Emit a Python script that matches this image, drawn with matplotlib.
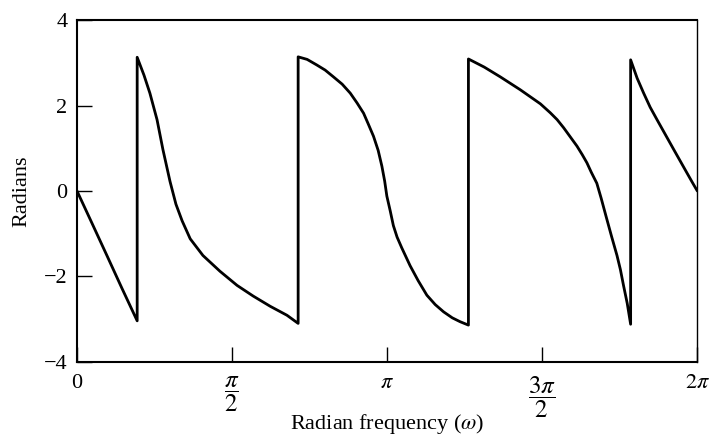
import numpy as np
import matplotlib
matplotlib.use("Agg")
import matplotlib.pyplot as plt

plt.rcParams['font.family'] = ['Liberation Serif', 'DejaVu Serif']
plt.rcParams['mathtext.fontset'] = 'stix'

# frequency points in multiples of pi, phase in radians (wrapped)
# each wrap is stored twice so the jump is drawn as a vertical line
omega_pi = [0.0, 0.048, 0.097, 0.145, 0.194,
            0.194, 0.216, 0.235, 0.258, 0.277, 0.300, 0.319, 0.339, 0.365,
            0.406, 0.461, 0.516, 0.568, 0.623, 0.677, 0.713,
            0.713, 0.742, 0.773, 0.800, 0.827, 0.855, 0.881, 0.903, 0.924,
            0.939, 0.956, 0.971, 0.983, 0.992, 0.999, 1.010, 1.020, 1.032,
            1.047, 1.074, 1.100, 1.128, 1.155, 1.182, 1.210, 1.235, 1.262,
            1.262, 1.313, 1.365, 1.429, 1.494, 1.526, 1.548, 1.569, 1.590,
            1.612, 1.629, 1.644, 1.658, 1.676, 1.690, 1.706, 1.723, 1.741,
            1.752, 1.762, 1.774, 1.785,
            1.785, 1.806, 1.827, 1.848, 1.870, 1.897, 1.924, 1.945, 1.966,
            1.984, 2.0]
phase = [0.0, -0.75, -1.52, -2.28, -3.04,
         3.13, 2.71, 2.29, 1.67, 0.97, 0.22, -0.31, -0.70, -1.12,
         -1.51, -1.88, -2.21, -2.46, -2.70, -2.91, -3.10,
         3.14, 3.08, 2.95, 2.83, 2.67, 2.50, 2.29, 2.06, 1.82,
         1.57, 1.28, 0.95, 0.58, 0.23, -0.12, -0.47, -0.81, -1.08,
         -1.33, -1.75, -2.10, -2.44, -2.66, -2.83, -2.97, -3.06, -3.14,
         3.09, 2.90, 2.67, 2.37, 2.04, 1.83, 1.67, 1.48, 1.27,
         1.05, 0.85, 0.66, 0.44, 0.18, -0.17, -0.60, -1.05, -1.51,
         -1.84, -2.21, -2.63, -3.12,
         3.07, 2.64, 2.29, 1.96, 1.67, 1.32, 0.97, 0.70, 0.43,
         0.20, 0.0]

xtick_vals = [0, 0.5, 1, 1.5, 2]
xtick_labels = ['0', r'$\dfrac{\pi}{2}$', r'$\pi$', r'$\dfrac{3\pi}{2}$', r'$2\pi$']
ytick_vals = [-4, -2, 0, 2, 4]
ytick_labels = ['\u22124', '\u22122', '0', '2', '4']

fig = plt.figure(figsize=(7.13, 4.37), dpi=100)
ax = fig.add_axes([0.108, 0.172, 0.870, 0.782])

w = np.array(omega_pi) * np.pi
ax.plot(w, phase, color='black', linewidth=2.0,
        solid_joinstyle='round', solid_capstyle='round')

ax.set_xlim(0, 2 * np.pi)
ax.set_ylim(-4, 4)
ax.set_xticks(np.array(xtick_vals) * np.pi)
ax.set_xticklabels(xtick_labels)
ax.set_yticks(ytick_vals)
ax.set_yticklabels(ytick_labels)

ax.tick_params(direction='in', length=11, width=1, labelsize=16, colors='black')
ax.tick_params(axis='x', pad=9)
ax.tick_params(axis='y', pad=7)
# fraction labels a little bigger than the plain ones
for i, lbl in enumerate(ax.get_xticklabels()):
    if i in (1, 3):
        lbl.set_fontsize(18)

for s in ax.spines.values():
    s.set_linewidth(1.5)
    s.set_color('black')
ax.spines['right'].set_linewidth(1.0)

ax.set_xlabel(r'Radian frequency ($\omega$)', fontsize=16)
ax.set_ylabel('Radians', fontsize=16)
ax.xaxis.set_label_coords(0.5, -0.148)
ax.yaxis.set_label_coords(-0.073, 0.5)

fig.savefig('out.png', dpi=100)
